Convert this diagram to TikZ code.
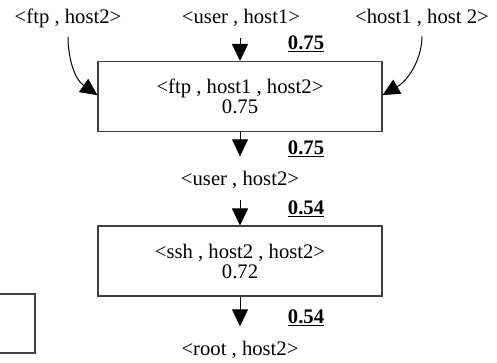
\documentclass[tikz,border=0pt]{standalone}
\usepackage{fontspec}
\setmainfont{Liberation Serif}
\usetikzlibrary{arrows.meta}
\begin{document}
\begin{tikzpicture}[x=0.75pt,y=-0.75pt,
  every node/.style={font=\fontsize{15.5}{15}\selectfont, inner sep=0pt},
  lab/.style={},
  box/.style={draw=black!75, line width=0.8pt, minimum width=213pt, minimum height=52.5pt, align=center},
  wt/.style={font=\fontsize{15.5}{15}\selectfont\bfseries},
  arr/.style={line width=0.75pt, -{Triangle[length=12.75pt,width=12pt]}}]
\useasboundingbox (0,0) rectangle (497,362);

% top pair labels
\node[lab] (ftp2) at (68,18) {<ftp , host2>};
\node[lab] (user1) at (241,18) {<user , host1>};
\node[lab] (h1h2) at (422,18) {<host1 , host 2>};

% first rule box
\node[box] (box1) at (240,96.5) {<ftp , host1 , host2>\\0.75};
\node[wt] (w1) at (306,44) {\underline{0.75}};

% intermediate result
\node[lab] (user2) at (240,180) {<user , host2>};
\node[wt] (w2) at (306,149) {\underline{0.75}};

% second rule box
\node[box] (box2) at (240,261) {<ssh , host2 , host2>\\0.72};
\node[wt] (w3) at (306,209) {\underline{0.54}};

% final result
\node[lab] (root2) at (240,350) {<root , host2>};
\node[wt] (w4) at (306,318) {\underline{0.54}};

% box cut by the left border
\node[draw=black!75, line width=0.8pt, minimum width=33.75pt, minimum height=44.25pt] (lbox) at (12.5,323.5) {};

% connectors
\draw[arr, shorten <=7pt] (ftp2.south) to[out=-90, in=145] ([yshift=1pt]box1.west);
\draw[arr, shorten <=7pt] (h1h2.south) to[out=-90, in=30] ([yshift=1pt]box1.east);
\draw[arr, shorten <=8pt] (box1.north |- user1.south) -- (box1.north);
\draw[arr, shorten >=11pt] (box1.south) -- (box1.south |- user2.north);
\draw[arr, shorten <=8pt] (box2.north |- user2.south) -- (box2.north);
\draw[arr, shorten >=11pt] (box2.south) -- (box2.south |- root2.north);
\end{tikzpicture}
\end{document}
